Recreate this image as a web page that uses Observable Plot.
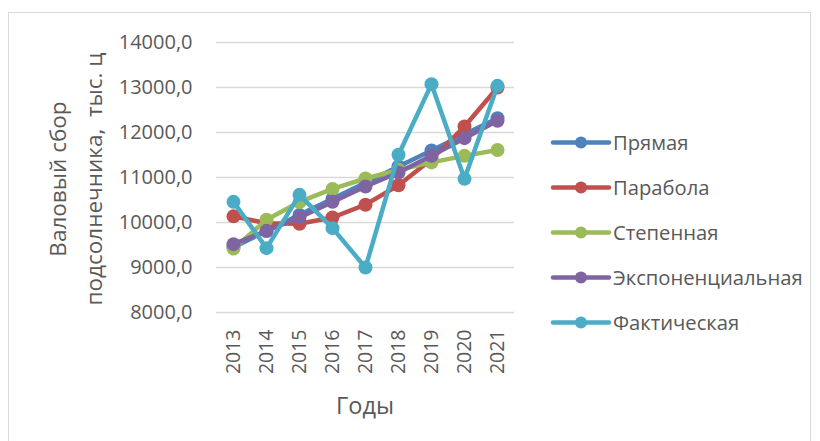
<!DOCTYPE html>
<html>
<head>
<meta charset="utf-8">
<script src="https://cdn.jsdelivr.net/npm/d3@7"></script>
<script src="https://cdn.jsdelivr.net/npm/@observablehq/plot@0.6"></script>
<style>
  html, body { margin: 0; padding: 0; background: #fff; }
  #wrap { position: relative; width: 820px; height: 441px; overflow: hidden; font-family: "Open Sans", sans-serif; color: #595959; }
  #frame { position: absolute; left: 8px; top: 12px; width: 803px; height: 440px; border: 1px solid #d9d9d9; box-sizing: border-box; }
  .ytitle { position: absolute; font-size: 22.5px; white-space: nowrap; transform: translate(-50%, -50%) rotate(-90deg); }
  #xtitle { position: absolute; left: 365px; top: 405px; transform: translate(-50%, -50%); font-size: 23.5px; }
  #legend { position: absolute; left: 540px; top: 120px; }
</style>
</head>
<body>
<div id="wrap">
  <div id="frame"></div>
  <div id="chart"></div>
  <div class="ytitle" style="left:57px; top:179px;">Валовый сбор</div>
  <div class="ytitle" style="left:93px; top:179px;">подсолнечника,&nbsp; тыс. ц</div>
  <div id="xtitle">Годы</div>
  <svg id="legend" width="280" height="220"></svg>
</div>
<script>
const years = ["2013","2014","2015","2016","2017","2018","2019","2020","2021"];
const seriesNames = ["Прямая","Парабола","Степенная","Экспоненциальная","Фактическая"];
const seriesColors = ["#4F81BD","#C0504D","#9BBB59","#8064A2","#4BACC6"];
const pryamaya = [9453, 9811, 10169, 10527, 10885, 11243, 11601, 11959, 12317];
const parabola = [10137, 9982, 9973, 10111, 10396, 10827, 11405, 12132, 13001];
const stepennaya = [9420, 10061, 10457, 10747, 10978, 11170, 11336, 11481, 11610];
const exponent = [9519, 9815, 10111, 10459, 10800, 11111, 11481, 11874, 12259];
const fakt = [10459, 9430, 10615, 9874, 9000, 11504, 13074, 10970, 13037];
const yTicks = [8000, 9000, 10000, 11000, 12000, 13000, 14000];

const seriesValues = [pryamaya, parabola, stepennaya, exponent, fakt];
const data = [];
seriesNames.forEach((name, si) => {
  years.forEach((yr, i) => data.push({series: name, year: yr, value: seriesValues[si][i]}));
});

const fmt = d => d.toFixed(1).replace(".", ",");

const marks = [
  Plot.gridY(yTicks, {stroke: "#d9d9d9", strokeOpacity: 1, strokeWidth: 1.3}),
  Plot.axisY(yTicks, {tickSize: 0, tickPadding: 24, tickFormat: fmt, fontSize: 20, label: null, fill: "#595959"}),
  Plot.axisX({tickSize: 0, tickRotate: -90, tickPadding: 17, fontSize: 19.5, label: null, fill: "#595959"})
];
seriesNames.forEach((name, si) => {
  const d = data.filter(r => r.series === name);
  marks.push(Plot.line(d, {x: "year", y: "value", stroke: seriesColors[si], strokeWidth: 4.5, curve: "linear"}));
  marks.push(Plot.dot(d, {x: "year", y: "value", fill: seriesColors[si], r: 7}));
});

const chart = Plot.plot({
  width: 820,
  height: 441,
  marginLeft: 216,
  marginRight: 306,
  marginTop: 42,
  marginBottom: 129,
  style: {fontFamily: "'Open Sans', sans-serif", background: "transparent", color: "#595959"},
  x: {type: "point", domain: years, padding: 0.5},
  y: {domain: [8000, 14000]},
  marks
});
chart.style.position = "absolute";
chart.style.left = "0px";
chart.style.top = "0px";
document.getElementById("chart").appendChild(chart);

// legend
const lg = d3.select("#legend");
seriesNames.forEach((name, i) => {
  const y = 22.5 + i * 45;
  const g = lg.append("g").attr("transform", `translate(0,${y})`);
  g.append("line").attr("x1", 13).attr("x2", 69).attr("y1", 0).attr("y2", 0)
    .attr("stroke", seriesColors[i]).attr("stroke-width", 4.5).attr("stroke-linecap", "round");
  g.append("circle").attr("cx", 41).attr("cy", 0).attr("r", 6).attr("fill", seriesColors[i]);
  g.append("text").attr("x", 73).attr("y", 0).attr("dy", "0.35em")
    .attr("font-size", 20.2).attr("fill", "#595959").attr("font-family", "'Open Sans', sans-serif").text(name);
});
</script>
</body>
</html>
